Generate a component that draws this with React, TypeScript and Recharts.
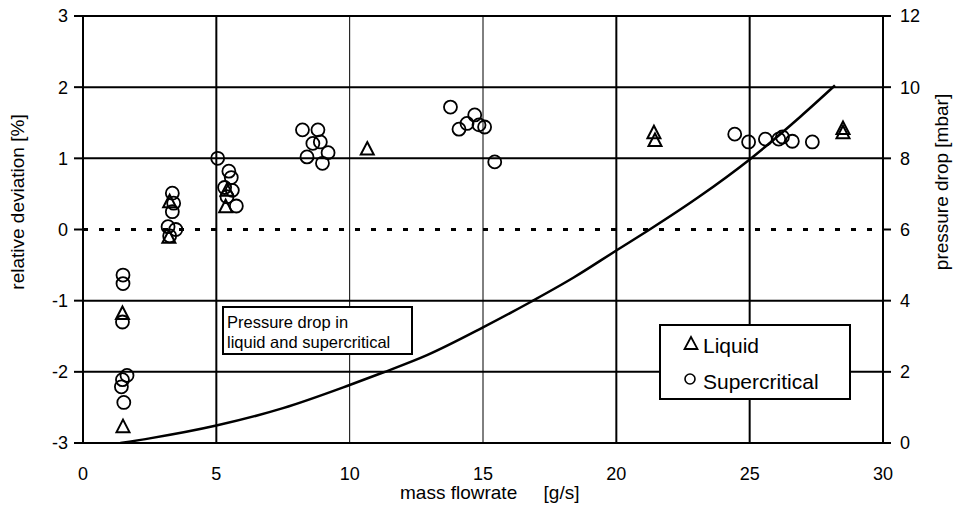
import React from "react"
import {
    ComposedChart,
    Scatter,
    Line,
    XAxis,
    YAxis,
    ReferenceLine,
    Legend,
    Label,
} from "recharts"

// relative deviation [%] vs mass flowrate [g/s]
const liquidPairs: [number, number][] = [
    [1.48, -1.18], [1.50, -2.77],
    [3.25, 0.39], [3.22, -0.11],
    [5.40, 0.55], [5.35, 0.32],
    [10.66, 1.13],
    [21.41, 1.36], [21.45, 1.25],
    [28.5, 1.42], [28.5, 1.36],
]

const superPairs: [number, number][] = [
    [1.50, -0.64], [1.50, -0.76], [1.48, -1.30], [1.65, -2.05], [1.48, -2.11], [1.44, -2.21], [1.53, -2.43],
    [3.35, 0.51], [3.40, 0.37], [3.35, 0.25], [3.19, 0.04], [3.48, 0.0], [3.25, -0.09],
    [5.05, 1.0], [5.47, 0.82], [5.56, 0.73], [5.31, 0.59], [5.60, 0.55], [5.40, 0.46], [5.75, 0.33],
    [8.23, 1.40], [8.81, 1.40], [8.62, 1.21], [8.90, 1.23], [8.40, 1.02], [9.19, 1.08], [8.98, 0.93],
    [13.78, 1.72], [14.69, 1.61], [14.40, 1.49], [14.10, 1.41], [14.85, 1.47], [15.06, 1.44], [15.44, 0.95],
    [24.44, 1.34], [24.96, 1.23], [25.59, 1.27], [26.09, 1.27], [26.23, 1.30], [26.60, 1.24], [27.35, 1.23],
]

// pressure drop [mbar]
const flowX = [1.4, 2.5, 5.0, 7.5, 10.0, 11.25, 12.9, 15.0, 16.8, 18.4, 20.0, 21.25, 23.1, 25.0, 26.9, 28.2]
const dropP = [0.0, 0.13, 0.49, 0.98, 1.63, 1.98, 2.47, 3.25, 3.97, 4.65, 5.41, 6.0, 6.92, 7.97, 9.17, 10.05]

const xTicks = [0, 5, 10, 15, 20, 25, 30]
const leftTicks = [-3, -2, -1, 0, 1, 2, 3]
const rightTicks = [0, 2, 4, 6, 8, 10, 12]
const thickX = [5, 20, 25]
const thinX = [10, 15]
const gridY = [-2, -1, 1, 2, 3]

const liquid = liquidPairs.map(([x, y]) => ({ x, y }))
const supercritical = superPairs.map(([x, y]) => ({ x, y }))
const curve = flowX.map((x, i) => ({ x, p: dropP[i] }))

const FONT = "'Liberation Sans', Arial, sans-serif"

const Triangle = (props: any) => {
    const { cx, cy } = props
    return (
        <path
            d={`M${cx},${cy - 7} L${cx + 6.5},${cy + 5.5} L${cx - 6.5},${cy + 5.5} Z`}
            fill="none"
            stroke="#000"
            strokeWidth={2}
        />
    )
}

const Ring = (props: any) => {
    const { cx, cy } = props
    return <circle cx={cx} cy={cy} r={6.5} fill="none" stroke="#000" strokeWidth={1.8} />
}

const LegendBox = () => (
    <div style={{
        boxSizing: "border-box", width: 192, height: 76, border: "2px solid #000", background: "#fff",
        fontFamily: FONT, fontSize: 21, color: "#000", padding: "2px 0 0 22px", lineHeight: "36px",
    }}>
        <div style={{ display: "flex", alignItems: "center", height: 36 }}>
            <svg width={16} height={16} style={{ marginRight: 4, marginTop: -6 }}>
                <path d="M8,2 L14.5,14 L1.5,14 Z" fill="none" stroke="#000" strokeWidth={1.8} />
            </svg>
            <span>Liquid</span>
        </div>
        <div style={{ display: "flex", alignItems: "center", height: 36 }}>
            <svg width={16} height={16} style={{ marginRight: 4, marginTop: -6 }}>
                <circle cx={7} cy={8} r={5} fill="none" stroke="#000" strokeWidth={1.6} />
            </svg>
            <span>Supercritical</span>
        </div>
    </div>
)

export default function App() {
    return (
        <div style={{ position: "absolute", left: 0, top: 0, width: 958, height: 512, background: "#fff" }}>
            <ComposedChart
                width={958}
                height={512}
                margin={{ top: 16, right: 0, bottom: 0, left: 0 }}
                style={{ fontFamily: FONT }}
            >
                <XAxis
                    type="number"
                    dataKey="x"
                    domain={[0, 30]}
                    ticks={xTicks}
                    height={69}
                    axisLine={{ stroke: "#000", strokeWidth: 2 }}
                    tickLine={false}
                    tickMargin={18}
                    tick={{ fill: "#000", fontSize: 18 }}
                    allowDataOverflow
                >
                    <Label
                        content={() => (
                            <text x={400} y={499} textAnchor="start" fontSize={19} fill="#000" fontFamily={FONT}>
                                {"mass flowrate\u00a0\u00a0\u00a0\u00a0\u00a0[g/s]"}
                            </text>
                        )}
                    />
                </XAxis>
                <YAxis
                    yAxisId="left"
                    type="number"
                    domain={[-3, 3]}
                    ticks={leftTicks}
                    width={83}
                    axisLine={{ stroke: "#000", strokeWidth: 2 }}
                    tickLine={{ stroke: "#000", strokeWidth: 2 }}
                    tickSize={9}
                    tickMargin={6}
                    tick={{ fill: "#000", fontSize: 18 }}
                    allowDataOverflow
                >
                    <Label
                        content={() => (
                            <text x={17} y={202} transform="rotate(-90 17 202)" textAnchor="middle"
                                dominantBaseline="central" fontSize={19} fill="#000" fontFamily={FONT}>
                                relative deviation [%]
                            </text>
                        )}
                    />
                </YAxis>
                <YAxis
                    yAxisId="right"
                    orientation="right"
                    type="number"
                    domain={[0, 12]}
                    ticks={rightTicks}
                    width={75}
                    axisLine={{ stroke: "#000", strokeWidth: 2 }}
                    tickLine={{ stroke: "#000", strokeWidth: 2 }}
                    tickSize={8}
                    tickMargin={9}
                    tick={{ fill: "#000", fontSize: 18 }}
                    allowDataOverflow
                >
                    <Label
                        content={() => (
                            <text x={941} y={182} transform="rotate(-90 941 182)" textAnchor="middle"
                                dominantBaseline="central" fontSize={19} fill="#000" fontFamily={FONT}>
                                pressure drop [mbar]
                            </text>
                        )}
                    />
                </YAxis>

                {gridY.map((v) => (
                    <ReferenceLine key={`gy${v}`} yAxisId="left" y={v} stroke="#000" strokeWidth={2} />
                ))}
                {thickX.map((v) => (
                    <ReferenceLine key={`gx${v}`} yAxisId="left" x={v} stroke="#000" strokeWidth={2} />
                ))}
                {thinX.map((v) => (
                    <ReferenceLine key={`tx${v}`} yAxisId="left" x={v} stroke="#000" strokeWidth={1} />
                ))}
                <ReferenceLine yAxisId="left" y={0} stroke="#000" strokeWidth={3} strokeDasharray="5 11" />

                <Line
                    yAxisId="right"
                    data={curve}
                    dataKey="p"
                    type="monotone"
                    stroke="#000"
                    strokeWidth={2.5}
                    dot={false}
                    isAnimationActive={false}
                />
                <Scatter
                    yAxisId="left"
                    name="Liquid"
                    data={liquid}
                    dataKey="y"
                    shape={<Triangle />}
                    isAnimationActive={false}
                />
                <Scatter
                    yAxisId="left"
                    name="Supercritical"
                    data={supercritical}
                    dataKey="y"
                    shape={<Ring />}
                    isAnimationActive={false}
                />
                <Legend
                    layout="horizontal"
                    verticalAlign="middle"
                    align="center"
                    wrapperStyle={{ left: 659, top: 324, width: 192, height: 76 }}
                    content={() => <LegendBox />}
                />
            </ComposedChart>

            <div style={{
                position: "absolute", left: 222, top: 306, width: 191, height: 49, boxSizing: "border-box",
                border: "2px solid #000", background: "#fff", fontFamily: FONT, fontSize: 16.5,
                lineHeight: "20px", padding: "4px 0 0 3px", color: "#000", whiteSpace: "nowrap",
            }}>
                Pressure drop in<br />liquid and supercritical
            </div>
        </div>
    )
}
